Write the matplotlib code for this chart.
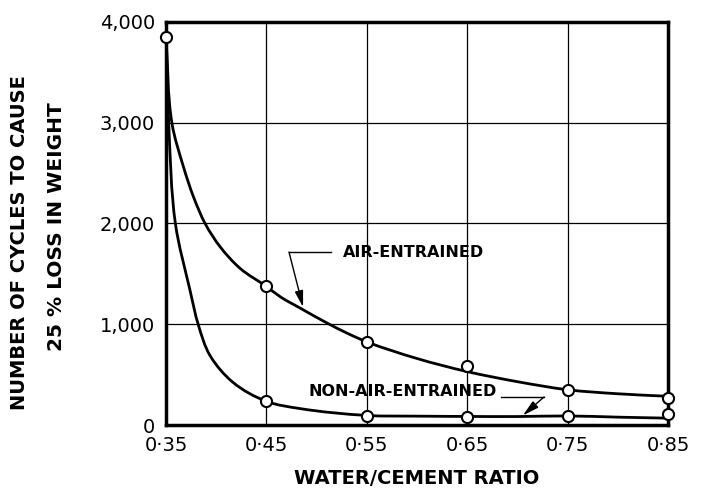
import matplotlib
matplotlib.use("Agg")
import matplotlib.pyplot as plt
import numpy as np
from matplotlib.path import Path
from matplotlib.patches import PathPatch

# Measured data points (circles)
wc_ratio = [0.35, 0.45, 0.55, 0.65, 0.75, 0.85]
air_entrained = [3850, 1375, 825, 588, 350, 272]
non_air_entrained = [3850, 235, 94, 84, 94, 113]

# Drawn (faired) curves
air_curve_x = [0.35, 0.356, 0.3676, 0.3776, 0.3892, 0.4042, 0.4241, 0.45, 0.4642,
               0.4842, 0.5108, 0.5307, 0.55, 0.60, 0.65, 0.70, 0.75, 0.80, 0.85]
air_curve_y = [3850, 2990, 2555, 2258, 1995, 1765, 1552, 1375, 1270,
               1157, 1010, 910, 825, 660, 530, 430, 350, 310, 285]
non_curve_x = [0.35, 0.3527, 0.3594, 0.3739, 0.3823, 0.3938, 0.4171, 0.45, 0.4835,
               0.55, 0.60, 0.65, 0.70, 0.75, 0.80, 0.85]
non_curve_y = [3850, 2990, 1995, 1337, 990, 690, 420, 235, 163,
               95, 88, 85, 84, 90, 78, 68]

x_ticks = [0.35, 0.45, 0.55, 0.65, 0.75, 0.85]
x_tick_labels = ["0·35", "0·45", "0·55", "0·65", "0·75", "0·85"]
y_ticks = [0, 1000, 2000, 3000, 4000]
y_tick_labels = ["0", "1,000", "2,000", "3,000", "4,000"]

XMIN, XMAX, YMIN, YMAX = 0.35, 0.85, 0, 4000


def smooth_path(xs, ys, sx=502.0, sy=403.0):
    """Bezier path through traced points (tangents computed in display-like space)."""
    P = np.column_stack([(np.asarray(xs) - XMIN) / (XMAX - XMIN) * sx,
                         (np.asarray(ys) - YMIN) / (YMAX - YMIN) * sy])
    n = len(P)
    T = np.zeros_like(P)
    for i in range(n):
        if i == 0:
            d = P[1] - P[0]
        elif i == n - 1:
            d = P[-1] - P[-2]
        else:
            a = P[i] - P[i - 1]
            b = P[i + 1] - P[i]
            la, lb = np.hypot(*a), np.hypot(*b)
            d = a / la + b / lb
        T[i] = d / np.hypot(*d)
    verts = [P[0]]
    codes = [Path.MOVETO]
    for i in range(n - 1):
        L = np.hypot(*(P[i + 1] - P[i])) / 3.0
        verts += [P[i] + T[i] * L, P[i + 1] - T[i + 1] * L, P[i + 1]]
        codes += [Path.CURVE4] * 3
    V = np.array(verts)
    V[:, 0] = V[:, 0] / sx * (XMAX - XMIN) + XMIN
    V[:, 1] = V[:, 1] / sy * (YMAX - YMIN) + YMIN
    return Path(V, codes)


fig = plt.figure(figsize=(7.11, 4.95), dpi=100)
ax = fig.add_axes([0.2335, 0.1414, 0.706, 0.8142])
ax.set_xlim(XMIN, XMAX)
ax.set_ylim(YMIN, YMAX)

ax.set_xticks(x_ticks)
ax.set_xticklabels(x_tick_labels, fontsize=14)
ax.set_yticks(y_ticks)
ax.set_yticklabels(y_tick_labels, fontsize=14)
ax.tick_params(length=0, pad=8)
ax.grid(True, color="black", linewidth=0.9)
ax.set_axisbelow(True)
for s in ax.spines.values():
    s.set_linewidth(2.5)

for cx, cy in ((air_curve_x, air_curve_y), (non_curve_x, non_curve_y)):
    ax.add_patch(PathPatch(smooth_path(cx, cy), facecolor="none", edgecolor="black",
                           lw=2.0, zorder=3, capstyle="round", joinstyle="round"))

ax.plot(wc_ratio, air_entrained, "o", ms=8, mfc="white", mec="black", mew=1.5, zorder=5, clip_on=False)
ax.plot(wc_ratio[1:], non_air_entrained[1:], "o", ms=8, mfc="white", mec="black", mew=1.5, zorder=5, clip_on=False)

# Annotations
arrow = dict(arrowstyle="-|>,head_length=0.7,head_width=0.18", color="black", lw=1.0,
             mutation_scale=14, shrinkA=0, shrinkB=0)
ax.text(0.5263, 1717, "AIR-ENTRAINED", fontsize=11.5, fontweight="bold", va="center", ha="left")
ax.plot([0.4725, 0.5143], [1717, 1717], color="black", lw=1.0)
ax.annotate("", xy=(0.4865, 1170), xytext=(0.4725, 1717), arrowprops=arrow)

ax.text(0.6795, 337, "NON-AIR-ENTRAINED", fontsize=11.5, fontweight="bold", va="center", ha="right")
ax.plot([0.6837, 0.7265], [278, 278], color="black", lw=1.0)
ax.annotate("", xy=(0.7055, 95), xytext=(0.7265, 278), arrowprops=arrow)

ax.set_xlabel("WATER/CEMENT RATIO", fontsize=14, fontweight="bold", labelpad=10)
fig.text(0.028, 0.51, "NUMBER OF CYCLES TO CAUSE", rotation=90, fontsize=14,
         fontweight="bold", ha="center", va="center")
fig.text(0.080, 0.542, "25 % LOSS IN WEIGHT", rotation=90, fontsize=14.5,
         fontweight="bold", ha="center", va="center")

fig.savefig("out.png", dpi=100)
